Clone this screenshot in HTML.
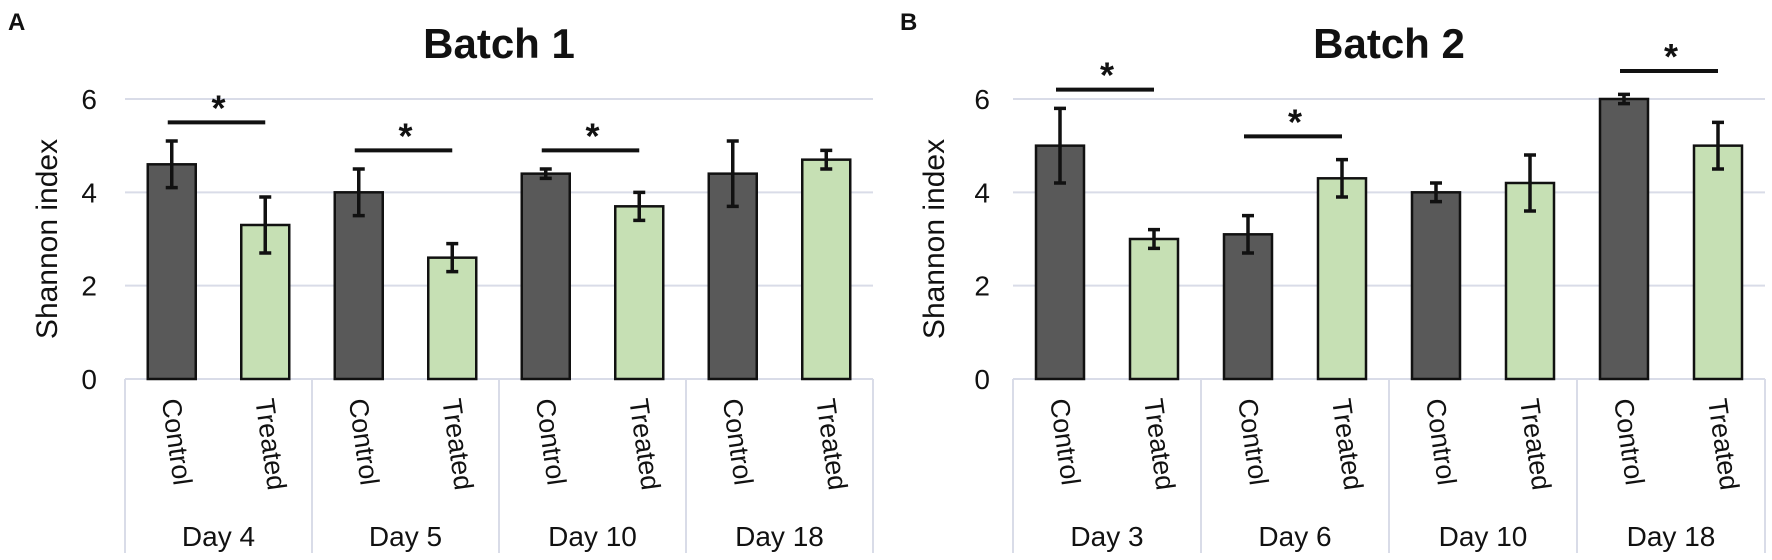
<!DOCTYPE html>
<html><head><meta charset="utf-8"><style>
html,body{margin:0;padding:0;background:#fff}
svg{display:block;font-family:"Liberation Sans",Arial,sans-serif}
</style></head><body>
<svg id="chart" width="1772" height="560" viewBox="0 0 1772 560" xmlns="http://www.w3.org/2000/svg"></svg>
<script>
const groupsA = ["Day 4","Day 5","Day 10","Day 18"];
const controlA = [4.6,4.0,4.4,4.4];
const controlErrA = [0.5,0.5,0.1,0.7];
const treatedA = [3.3,2.6,3.7,4.7];
const treatedErrA = [0.6,0.3,0.3,0.2];
const sigA = [true,true,true,false];
const sigYA = [5.5,4.9,4.9,0];

const groupsB = ["Day 3","Day 6","Day 10","Day 18"];
const controlB = [5.0,3.1,4.0,6.0];
const controlErrB = [0.8,0.4,0.2,0.1];
const treatedB = [3.0,4.3,4.2,5.0];
const treatedErrB = [0.2,0.4,0.6,0.5];
const sigB = [true,true,false,true];
const sigYB = [6.2,5.2,0,6.6];

const yTicks = [0,2,4,6];
const NS="http://www.w3.org/2000/svg";
const svg=document.getElementById('chart');
function mk(tag,attrs,parent){const e=document.createElementNS(NS,tag);for(const k in attrs)e.setAttribute(k,attrs[k]);(parent||svg).appendChild(e);return e;}

function panel(p){
  const g=mk('g',{});
  
  
  const y0=379, ppu=46.67;
  const y=v=>y0-v*ppu;
  const gw=(p.x1-p.x0)/p.groups.length, slot=gw/2, bw=48;
  yTicks.forEach(t=>{
    if(t>0){const l=mk('line',{x1:p.x0,x2:p.x1,y1:y(t),y2:y(t),stroke:'#d9dce8','stroke-width':2},g);
      }
    const tx=mk('text',{x:p.tickX,y:y(t)+10,'font-size':28,'text-anchor':'end',fill:'#111'},g);
    
    tx.textContent=t;
  });
  const ax=mk('line',{x1:p.x0,x2:p.x1,y1:y0,y2:y0,stroke:'#d9dce8','stroke-width':2},g);
  
  for(let i=0;i<=p.groups.length;i++){
    const d=mk('line',{x1:p.x0+i*gw,x2:p.x0+i*gw,y1:y0,y2:553,stroke:'#d9dce8','stroke-width':2},g);
    
  }
  const yt=mk('text',{x:0,y:0,'font-size':30,'text-anchor':'middle',fill:'#111',transform:`translate(${p.titleX},${y(3)}) rotate(-90)`},g);
  
  yt.textContent='Shannon index';
  p.groups.forEach((name,i)=>{
    const gx=p.x0+i*gw;
    [[p.c[i],p.ce[i],'#595959','control'],[p.t[i],p.te[i],'#c6e0b4','treated']].forEach((s,j)=>{
      const cx=gx+slot*(j+0.5);
      const r=mk('rect',{x:cx-bw/2,y:y(s[0]),width:bw,height:y0-y(s[0]),fill:s[2],stroke:'#111','stroke-width':2.5},g);
      
      
      const eb=mk('path',{d:`M${cx} ${y(s[0]+s[1])}V${y(s[0]-s[1])}M${cx-6} ${y(s[0]+s[1])}H${cx+6}M${cx-6} ${y(s[0]-s[1])}H${cx+6}`,stroke:'#111','stroke-width':3.5,fill:'none'},g);
      
      const lb=mk('text',{x:0,y:0,'font-size':27,fill:'#111',transform:`translate(${cx-10},${400}) rotate(82)`},g);
      
      lb.textContent=j===0?'Control':'Treated';
    });
    const dl=mk('text',{x:gx+gw/2,y:546,'font-size':28,'text-anchor':'middle',fill:'#111'},g);
    
    dl.textContent=name;
    if(p.sig[i]){
      const ly=y(p.sy[i]);
      const sl=mk('line',{x1:gx+slot*0.5-4,x2:gx+slot*1.5,y1:ly,y2:ly,stroke:'#111','stroke-width':4},g);
      
      const st=mk('text',{x:gx+gw/2,y:ly-2,'font-size':36,'font-weight':'bold','text-anchor':'middle',fill:'#111'},g);
      
      st.textContent='*';
    }
  });
  const ti=mk('text',{x:(p.x0+p.x1)/2,y:58,'font-size':42,'font-weight':'bold','text-anchor':'middle',fill:'#111'},g);
  
  ti.textContent=p.title;
  const pl=mk('text',{x:p.letterX,y:30,'font-size':24,'font-weight':'bold',fill:'#111'},g);
  
  pl.textContent=p.letter;
}
panel({name:'panel-a',x0:125,x1:873,groups:groupsA,c:controlA,ce:controlErrA,t:treatedA,te:treatedErrA,sig:sigA,sy:sigYA,tickX:97,titleX:57,title:'Batch 1',letter:'A',letterX:8});
panel({name:'panel-b',x0:1013,x1:1765,groups:groupsB,c:controlB,ce:controlErrB,t:treatedB,te:treatedErrB,sig:sigB,sy:sigYB,tickX:990,titleX:944,title:'Batch 2',letter:'B',letterX:900});
</script>
</body></html>
